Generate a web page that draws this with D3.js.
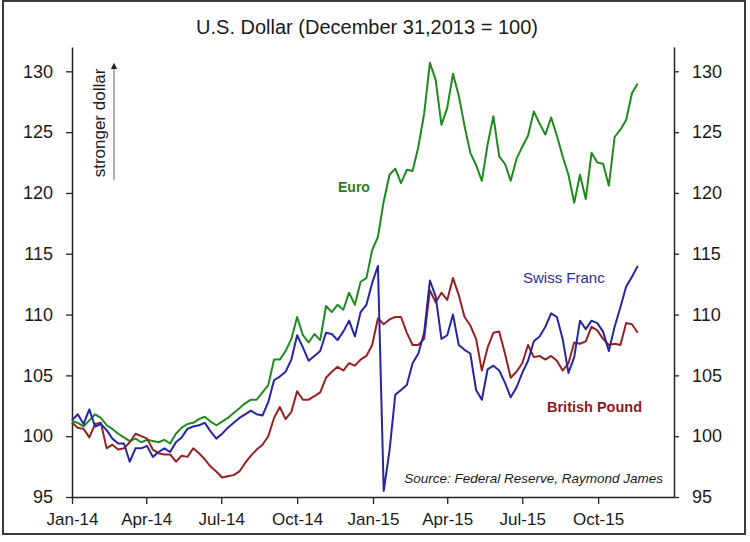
<!DOCTYPE html>
<html>
<head>
<meta charset="utf-8">
<script src="https://cdn.jsdelivr.net/npm/d3@7"></script>
<style>
  body { margin: 0; background: #fff; }
  text { font-family: "Liberation Sans", Arial, sans-serif; fill: #1a1a1a; }
</style>
</head>
<body>
<svg width="750" height="542"></svg>
<script>
// weekly readings, first week = Jan 1 2014
const startDate = new Date(2014, 0, 1);

const euro = [
  101.2, 101.1, 100.8, 101.3, 101.8, 101.5, 100.9, 100.6, 100.2, 99.9,
  99.6, 99.8, 99.5, 99.7, 99.6, 99.5, 99.7, 99.4, 100.2, 100.7,
  101.0, 101.1, 101.4, 101.6, 101.2, 100.9, 101.2, 101.5, 101.9, 102.3,
  102.7, 103.0, 103.0, 103.6, 104.2, 106.3, 106.3, 107.0, 108.0, 109.8,
  108.3, 107.7, 108.4, 107.9, 110.7, 110.2, 110.8, 110.4, 111.8, 110.8,
  112.7, 113.0, 115.3, 116.4, 119.3, 121.5, 122.0, 120.8, 121.9, 121.8,
  123.8, 126.5, 130.7, 129.3, 125.6, 127.0, 129.8, 128.0, 125.5, 123.3,
  122.3, 121.0, 124.0, 126.3, 123.0, 122.4, 121.0, 122.8, 123.8, 124.7,
  126.7, 125.7, 124.8, 126.2, 124.7, 123.0, 121.5, 119.2, 121.5, 119.5,
  123.3, 122.5, 122.4, 120.6, 124.6, 125.2, 126.0, 128.2, 129.0
];

const swissFranc = [
  101.3, 101.8, 101.0, 102.2, 100.8, 101.0, 100.5, 99.8, 99.4, 99.4,
  97.9, 99.0, 99.0, 99.2, 98.3, 98.7, 99.0, 98.7, 99.5, 99.9,
  100.6, 100.8, 100.9, 101.1, 100.4, 99.8, 100.2, 100.7, 101.1, 101.5,
  101.8, 102.1, 101.8, 101.7, 102.8, 104.6, 104.9, 105.3, 106.3, 108.3,
  107.3, 106.2, 106.6, 107.0, 108.5, 108.4, 107.9, 108.6, 109.5, 108.2,
  110.2, 110.8, 112.6, 114.0, 95.5, 98.8, 103.4, 103.8, 104.2, 106.0,
  106.8, 108.5, 112.8, 111.5, 108.0, 108.3, 110.0, 107.5, 107.1, 106.8,
  103.8, 103.0, 105.5, 105.8, 105.4, 104.4, 103.2, 104.0, 105.2, 106.2,
  107.8, 108.2, 109.0, 110.1, 109.8, 108.0, 105.2, 106.5, 109.5, 108.8,
  109.5, 109.3, 108.6, 107.0, 109.0, 110.6, 112.3, 113.1, 114.0
];

const britishPound = [
  101.1, 100.7, 100.6, 99.9, 101.0, 101.1, 99.0, 99.3, 98.9, 99.0,
  99.5, 100.2, 100.0, 99.8, 98.9, 98.6, 98.5, 98.5, 97.9, 98.4,
  98.3, 99.0, 98.6, 98.1, 97.5, 97.1, 96.6, 96.7, 96.8, 97.1,
  97.8, 98.4, 98.9, 99.3, 100.0, 101.5, 102.4, 101.4, 102.0, 103.7,
  103.0, 103.0, 103.3, 103.6, 104.8, 105.3, 105.7, 105.4, 106.0, 105.8,
  106.3, 106.6, 107.5, 109.7, 109.2, 109.6, 109.8, 109.8, 108.5, 107.5,
  107.5, 108.0, 112.0, 111.0, 111.8, 111.2, 113.0, 111.6, 109.8, 109.1,
  108.0, 105.4, 107.3, 108.5, 108.6, 106.8, 104.8, 105.3, 106.0, 107.5,
  106.5, 106.6, 106.3, 106.6, 106.2, 105.4, 106.0, 107.7, 107.6, 107.8,
  109.0, 108.7, 108.0, 107.5, 107.6, 107.5, 109.3, 109.2, 108.5
];

const yTicks = [95, 100, 105, 110, 115, 120, 125, 130];
const xTickLabels = ["Jan-14", "Apr-14", "Jul-14", "Oct-14", "Jan-15", "Apr-15", "Jul-15", "Oct-15"];

const svg = d3.select('svg');

// outer frame
svg.append('rect')
  .attr('x', 3).attr('y', 1).attr('width', 742).attr('height', 533)
  .attr('fill', 'none').attr('stroke', '#3a3a3a').attr('stroke-width', 2);

const parseTick = d3.timeParse('%b-%y');
const tickDates = xTickLabels.map(parseTick);
const dates = euro.map((d, i) => d3.timeDay.offset(startDate, 7 * i));

const x = d3.scaleTime()
  .domain([new Date(2014, 0, 1), new Date(2016, 0, 1)])
  .range([72, 674]);

const y = d3.scaleLinear()
  .domain([95, 132])
  .range([497, 47]);

// axes
const styleAxis = (g, size) => {
  g.select('.domain').attr('stroke', '#222').attr('stroke-width', 1.5);
  g.selectAll('.tick line').attr('stroke', '#222').attr('stroke-width', 1.3);
  g.selectAll('.tick text').attr('fill', '#1a1a1a')
    .style('font-size', size + 'px')
    .style('font-family', '"Liberation Sans", Arial, sans-serif');
};

svg.append('g')
  .attr('transform', 'translate(72,0)')
  .call(d3.axisLeft(y).tickValues(yTicks).tickSize(6).tickSizeOuter(0).tickPadding(13))
  .call(g => styleAxis(g, 18));

svg.append('g')
  .attr('transform', 'translate(674,0)')
  .call(d3.axisRight(y).tickValues(yTicks).tickSize(5).tickSizeOuter(0).tickPadding(13))
  .call(g => styleAxis(g, 18));

svg.append('g')
  .attr('transform', 'translate(0,497)')
  .call(d3.axisBottom(x).tickValues(tickDates).tickFormat((d, i) => xTickLabels[i])
    .tickSize(7).tickSizeOuter(0).tickPadding(9))
  .call(g => styleAxis(g, 17));

// lines
const line = d3.line()
  .x((d, i) => x(dates[i]))
  .y(d => y(d));

const series = [
  {name: 'Euro', values: euro, color: '#1f8a1f'},
  {name: 'British Pound', values: britishPound, color: '#952222'},
  {name: 'Swiss Franc', values: swissFranc, color: '#2626a0'}
];

svg.selectAll('path.series').data(series)
  .enter()
  .append('path')
    .attr('class', 'series')
    .attr('d', d => line(d.values))
    .attr('fill', 'none')
    .attr('stroke', d => d.color)
    .attr('stroke-width', 2)
    .attr('stroke-linejoin', 'round');

// title
svg.append('text')
  .attr('x', 367).attr('y', 34)
  .attr('text-anchor', 'middle')
  .style('font-size', '20px')
  .text('U.S. Dollar (December 31,2013 = 100)');

// stronger dollar note
svg.append('text')
  .attr('transform', 'translate(105,123) rotate(-90)')
  .attr('text-anchor', 'middle')
  .style('font-size', '17px')
  .text('stronger dollar');

svg.append('defs').append('marker')
  .attr('id', 'arrow')
  .attr('viewBox', '0 0 10 10')
  .attr('refX', 5).attr('refY', 5)
  .attr('markerWidth', 5).attr('markerHeight', 5)
  .attr('orient', 'auto')
  .append('path').attr('d', 'M0,0L10,5L0,10z').attr('fill', '#222');

svg.append('line')
  .attr('x1', 114).attr('y1', 180).attr('x2', 114).attr('y2', 66)
  .attr('stroke', '#888').attr('stroke-width', 1.3)
  .attr('marker-end', 'url(#arrow)');

// series labels
svg.append('text')
  .attr('x', 338).attr('y', 192)
  .style('fill', '#2a7d1a')
  .style('font-size', '14px').style('font-weight', 'bold')
  .text('Euro');

svg.append('text')
  .attr('x', 523).attr('y', 283)
  .style('fill', '#2b2b9c')
  .style('font-size', '15px')
  .text('Swiss Franc');

svg.append('text')
  .attr('x', 547).attr('y', 412)
  .style('fill', '#8b1a1a')
  .style('font-size', '14.5px').style('font-weight', 'bold')
  .text('British Pound');

svg.append('text')
  .attr('x', 663).attr('y', 483)
  .attr('text-anchor', 'end')
  .style('font-size', '13.5px').style('font-style', 'italic')
  .text('Source: Federal Reserve, Raymond James');
</script>
</body>
</html>
